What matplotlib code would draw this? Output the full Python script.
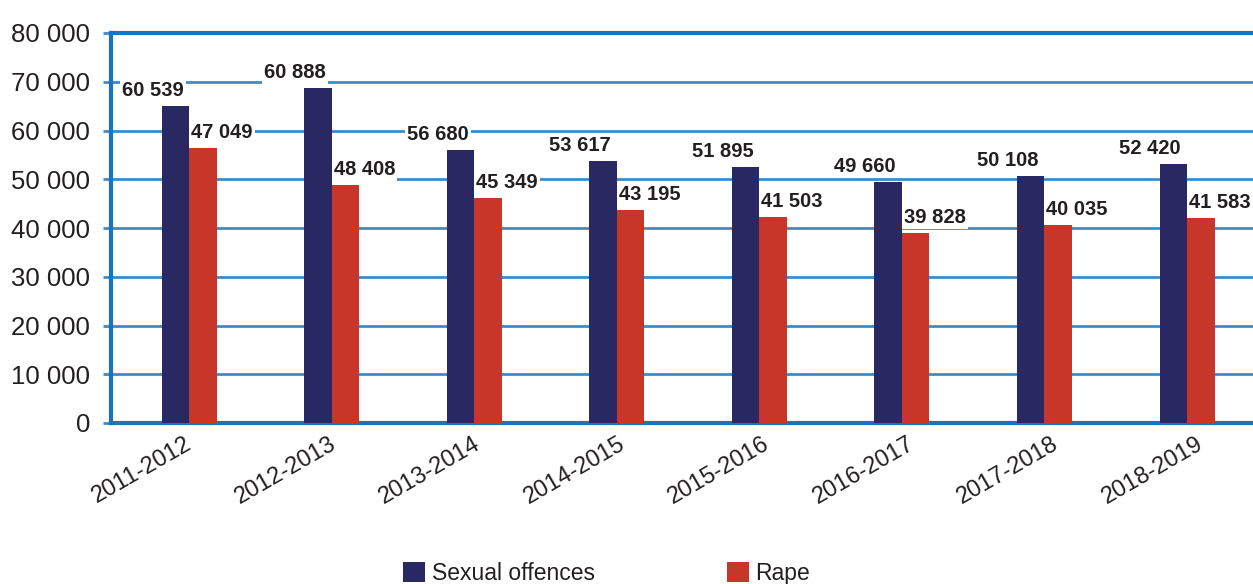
import matplotlib
matplotlib.use('Agg')
import matplotlib.pyplot as plt
import matplotlib.transforms as mtransforms
import numpy as np

plt.rcParams['font.family'] = ['Liberation Sans', 'DejaVu Sans']

years = ['2011-2012', '2012-2013', '2013-2014', '2014-2015',
         '2015-2016', '2016-2017', '2017-2018', '2018-2019']
# bar heights as drawn in the picture (they do not follow the printed labels)
sexual_offences = [65000, 68700, 56000, 53700, 52500, 49400, 50700, 53100]
rape = [56400, 48800, 46150, 43700, 42250, 39000, 40600, 42050]
# labels as printed
sexual_labels = ['60 539', '60 888', '56 680', '53 617', '51 895', '49 660', '50 108', '52 420']
rape_labels = ['47 049', '48 408', '45 349', '43 195', '41 503', '39 828', '40 035', '41 583']
yticks = [0, 10000, 20000, 30000, 40000, 50000, 60000, 70000, 80000]
ytick_labels = ['0', '10 000', '20 000', '30 000', '40 000', '50 000', '60 000', '70 000', '80 000']

navy = '#2a2862'
red = '#c6372a'
blue = '#1a74bb'
grid_blue = '#3a8ccb'
text_col = '#231f20'

fig = plt.figure(figsize=(12.53, 5.84), dpi=100)
ax = fig.add_axes([111 / 1253, 1 - 423 / 584, 1 - 111 / 1253, (423 - 33) / 584])

x = np.arange(len(years))
w = 0.193
b1 = ax.bar(x - w / 2, sexual_offences, w, color=navy, label='Sexual offences', zorder=3)
b2 = ax.bar(x + w / 2, rape, w, color=red, label='Rape', zorder=3)

for i in range(len(years)):
    ax.annotate(sexual_labels[i], (x[i] - w / 2, sexual_offences[i]),
                xytext=(-23, 6), textcoords='offset pixels', ha='center', va='bottom',
                fontsize=14.5, fontweight='bold', color=text_col, zorder=4,
                bbox=dict(boxstyle='square,pad=0.1', fc='white', ec='none'))
    ax.annotate(rape_labels[i], (x[i] + w / 2, rape[i]),
                xytext=(19, 6), textcoords='offset pixels', ha='center', va='bottom',
                fontsize=14.5, fontweight='bold', color=text_col, zorder=4,
                bbox=dict(boxstyle='square,pad=0.1', fc='white', ec='none'))

ax.set_xlim(-0.55, 7.463)
ax.set_ylim(0, 80000)
ax.set_yticks(yticks)
ax.set_yticklabels(ytick_labels, fontsize=18.5, color=text_col)
ax.set_xticks(x)
ax.set_xticklabels(years, fontsize=17, color=text_col, rotation=30, ha='right')
ax.tick_params(axis='x', length=0, pad=7)
ax.tick_params(axis='y', length=6, width=2, color=grid_blue, pad=9)
ax.yaxis.grid(True, color=grid_blue, linewidth=2, zorder=0)
ax.set_axisbelow(True)

# the category labels drift a little to the right in the original
for i, lab in enumerate(ax.get_xticklabels()):
    shift = mtransforms.ScaledTranslation((6 + 2 * i) / 100, 0, fig.dpi_scale_trans)
    lab.set_transform(lab.get_transform() + shift)

for side in ['left', 'bottom', 'top']:
    ax.spines[side].set_color(blue)
    ax.spines[side].set_linewidth(3)
ax.spines['right'].set_visible(False)

fig.legend(handles=[b1, b2], loc='upper left', bbox_to_anchor=(403 / 1253, 1 - 562 / 584),
           ncol=2, frameon=False, fontsize=16.5, borderpad=0, borderaxespad=0,
           handlelength=0.96, handleheight=0.96, handletextpad=0.3, columnspacing=5.75,
           labelcolor=text_col)

fig.savefig('out.png', dpi=100)
